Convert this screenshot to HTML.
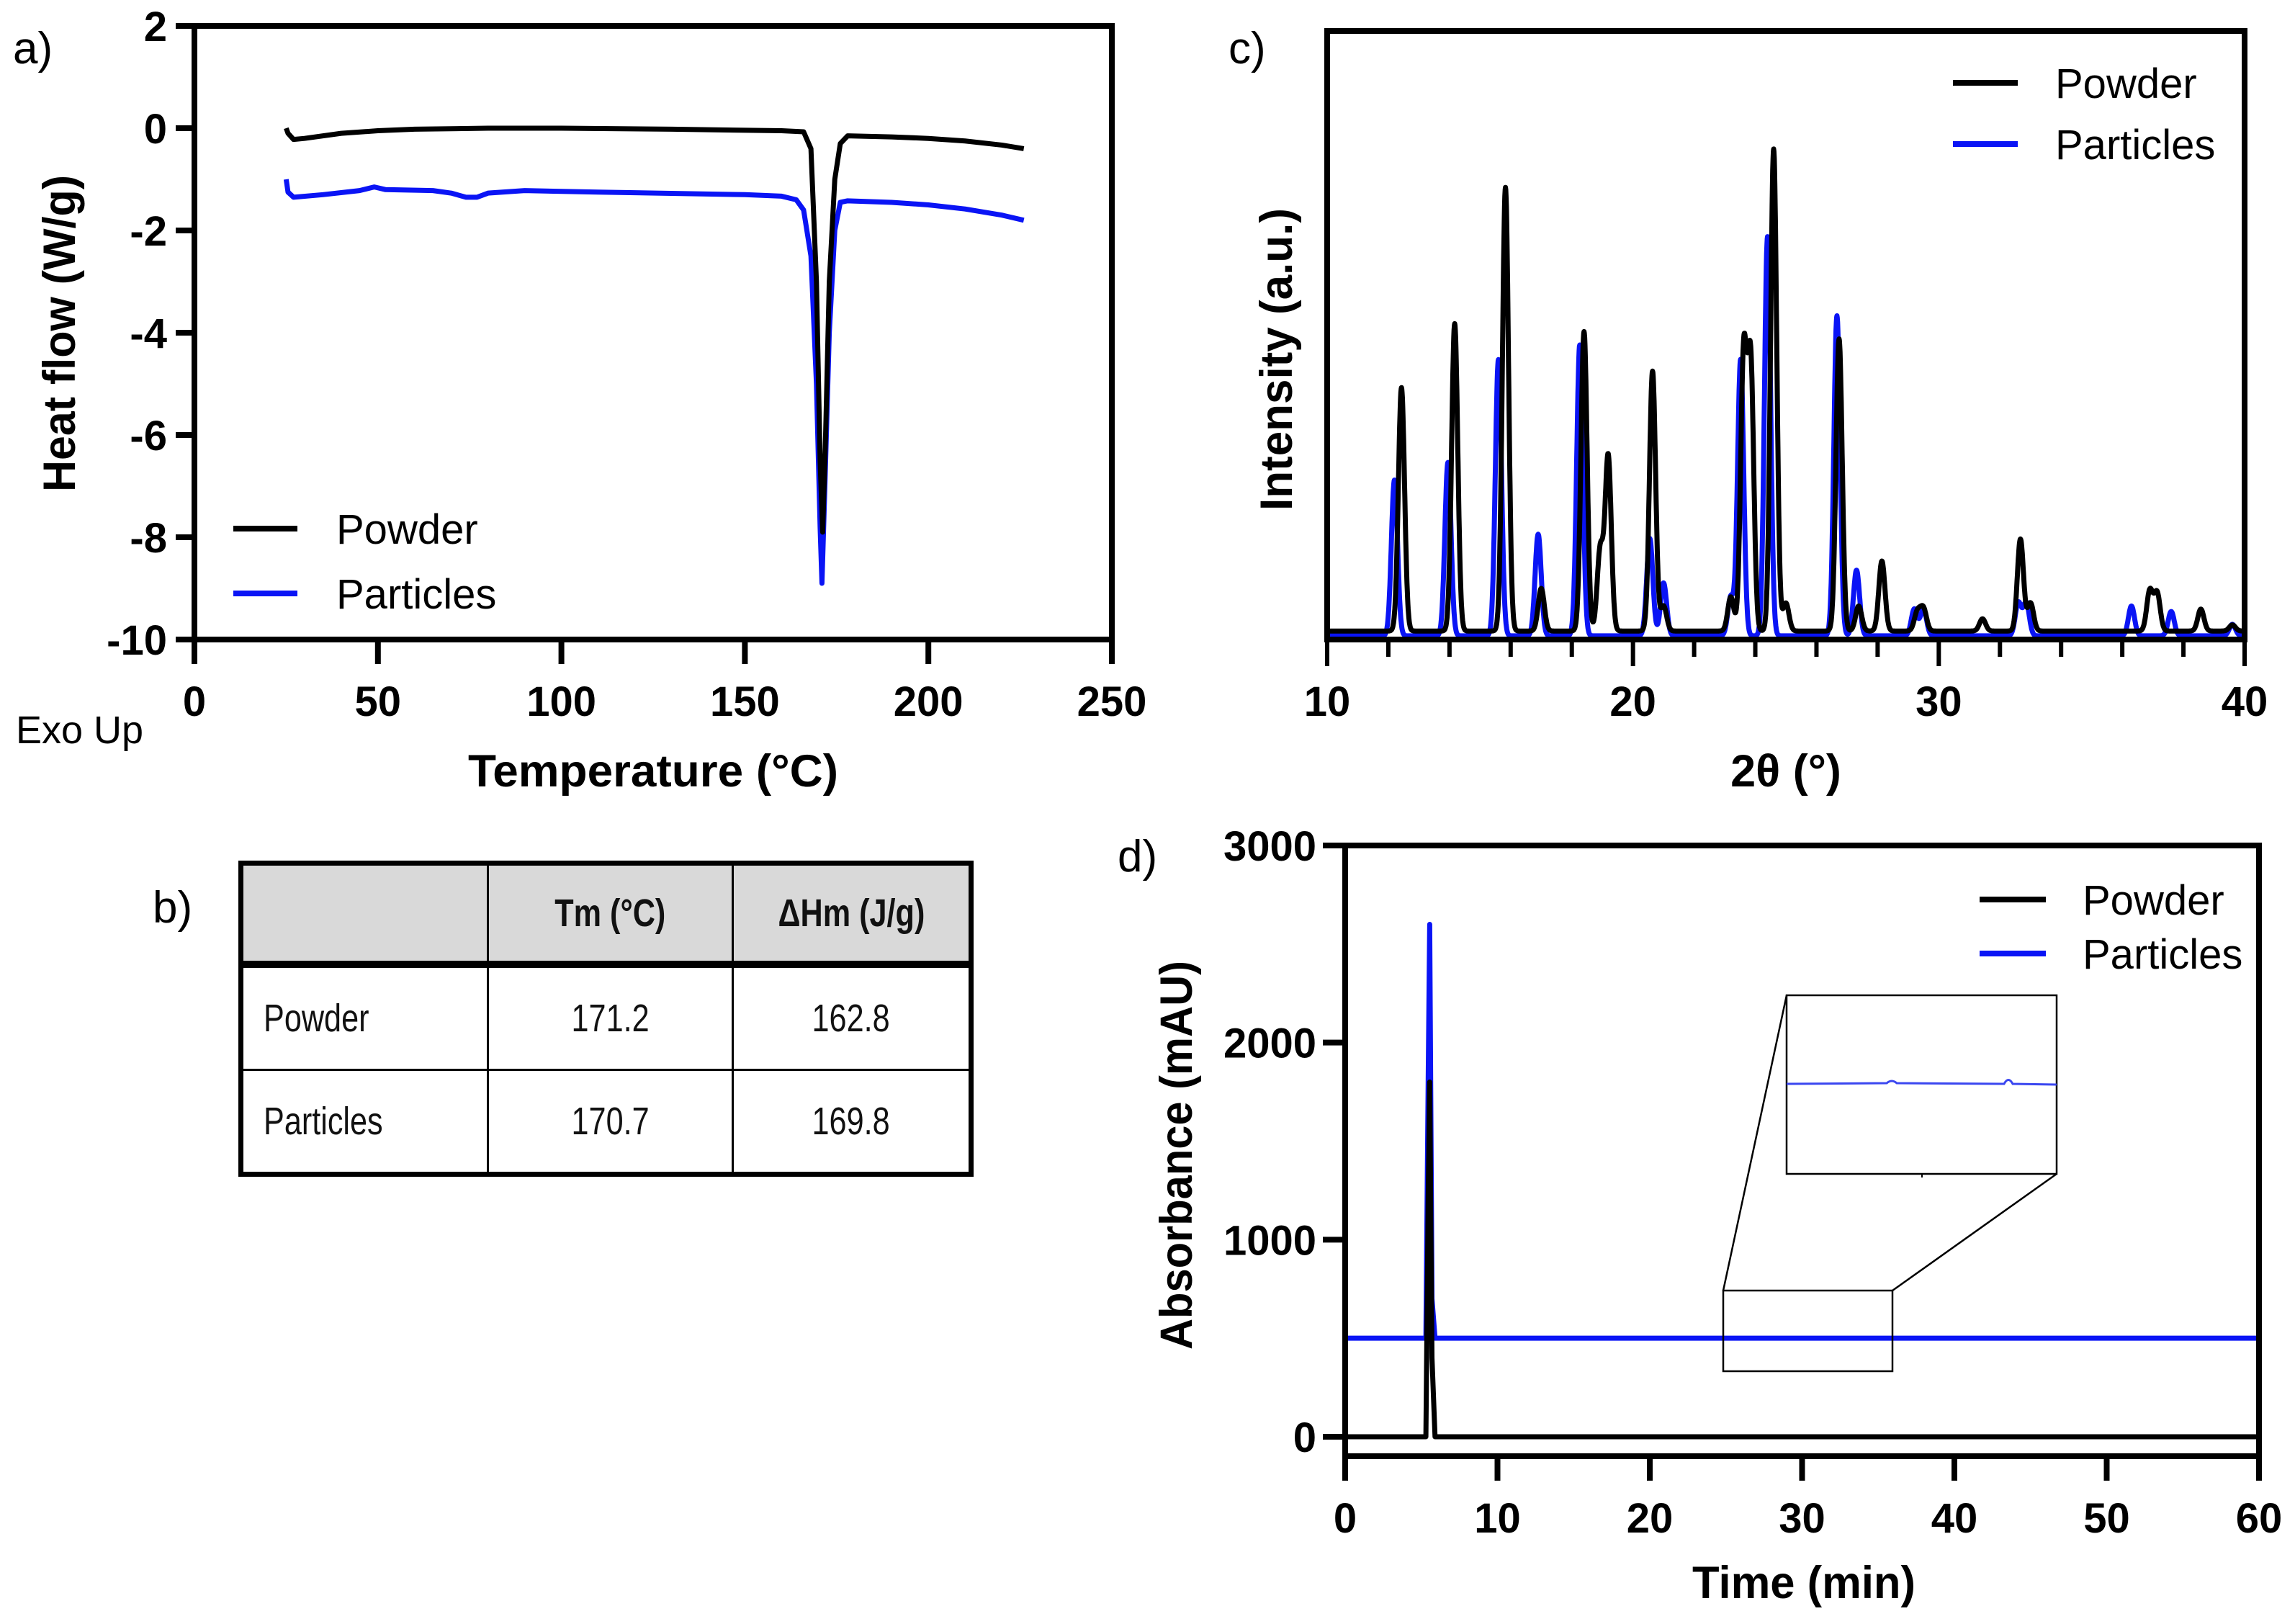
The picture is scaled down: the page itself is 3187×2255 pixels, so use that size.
<!DOCTYPE html>
<html><head><meta charset="utf-8">
<style>
html,body{margin:0;padding:0;background:#fff;}
#wrap{position:relative;width:3187px;height:2255px;overflow:hidden;background:#fff;font-family:"Liberation Sans",sans-serif;}
svg{position:absolute;left:0;top:0;}
#tbl{position:absolute;left:331px;top:1195px;width:1021px;height:433px;border-collapse:collapse;font-family:"Liberation Sans",sans-serif;font-size:54px;color:#111;border:7px solid #000;}
#tbl td{border:3px solid #000;padding:0;}
#tbl tr.h td{background:#d9d9d9;font-weight:bold;text-align:center;height:132px;border-bottom:10px solid #000;}
#tbl tr.r td{height:140px;text-align:center;}
#tbl tr.r td.n{text-align:left;padding-left:28px;}
#tbl tr:last-child td{border-bottom:7px solid #000;}
.sx{display:inline-block;transform:scaleX(0.8);transform-origin:center;}
.sl{display:inline-block;transform:scaleX(0.8);transform-origin:left;}
</style></head>
<body>
<div id="wrap">
<svg id="fig" width="3187" height="2255" viewBox="0 0 3187 2255"></svg>
<div style="position:absolute;left:212px;top:1225px;font-size:62px;">b)</div>
<table id="tbl">
<tr class="h"><td style="width:338px"></td><td style="width:337px"><span class="sx">Tm (°C)</span></td><td><span class="sx">ΔHm (J/g)</span></td></tr>
<tr class="r"><td class="n"><span class="sl">Powder</span></td><td><span class="sx">171.2</span></td><td><span class="sx">162.8</span></td></tr>
<tr class="r"><td class="n"><span class="sl">Particles</span></td><td><span class="sx">170.7</span></td><td><span class="sx">169.8</span></td></tr>
</table>
</div>
<script>
// ---- Panel a (DSC) data ----
const dscPowderT = [25,25.5,27,30,40,50,60,80,100,130,160,166,168,169.5,170.5,171.2,172,173,174.5,176,178,190,200,210,220,226];
const dscPowderH = [0,-0.1,-0.22,-0.2,-0.1,-0.05,-0.02,0,0,-0.02,-0.05,-0.07,-0.4,-3,-6.5,-7.9,-6,-3,-1,-0.3,-0.15,-0.17,-0.2,-0.25,-0.33,-0.4];
const dscPartT = [25,25.5,27,35,45,49,52,65,70,74,77,80,90,110,150,160,164,166,168,169.5,170.5,171,171.8,173,174.5,176,178,190,200,210,220,226];
const dscPartH = [-1.0,-1.25,-1.35,-1.3,-1.22,-1.15,-1.2,-1.22,-1.27,-1.35,-1.35,-1.27,-1.22,-1.25,-1.3,-1.33,-1.4,-1.6,-2.5,-5,-7.8,-8.9,-7,-4,-2,-1.45,-1.42,-1.45,-1.5,-1.58,-1.7,-1.8];
const dscXTicks = [0,50,100,150,200,250];
const dscYTicks = [2,0,-2,-4,-6,-8,-10];
// ---- Panel c (XRD) data: peak positions (2θ) and heights (% of axis) ----
const xrdPowderPos = [12.43,14.17,15.83,17.0,18.4,18.93,19.19,20.64,21.0,23.2,23.62,23.85,24.6,25.0,26.74,27.38,28.14,29.3,29.5,31.43,32.67,33.0,36.9,37.14,38.57,39.6];
const xrdPowderHt = [41.4,51.9,74.3,8.4,50.6,14.8,30.1,44.1,5.5,7,46.4,45,80.6,6,49.4,5.5,12.9,4.5,5,3.4,16.5,6,8,7.6,5,2.4];
const xrdPartPos = [12.2,13.95,15.6,16.9,18.26,20.55,21.0,23.2,23.52,24.4,26.67,27.31,29.2,29.5,32.6,32.86,36.3,37.6,39.6];
const xrdPartHt = [26.2,29.1,46,17.3,48.4,16.6,9.3,7,46,66.2,53.2,11.4,5,5,6,6,5.5,4.6,2.5];
const xrdPowderBase = [1.4];
const xrdPartBase = [0.6];
const xrdXTicks = [10,20,30,40];
// ---- Panel d (HPLC) data ----
const hplcT = [0,5.3,5.45,5.55,5.7,5.9,60];
const hplcPowder = [0,0,1200,1800,400,0,0];
const hplcPart = [500,500,1800,2600,700,500,500];
const hplcXTicks = [0,10,20,30,40,50,60];
const hplcYTicks = [0,1000,2000,3000];

const NS='http://www.w3.org/2000/svg';
const svg=document.getElementById('fig');
function mk(tag,attrs,parent){const e=document.createElementNS(NS,tag);for(const k in attrs)e.setAttribute(k,attrs[k]);(parent||svg).appendChild(e);return e;}
function txt(s,attrs,parent){const e=mk('text',attrs,parent);e.textContent=s;return e;}
function lin(d0,d1,r0,r1){return v=>r0+(v-d0)/(d1-d0)*(r1-r0);}
const LW=7, AW=8;

// ================= Panel a =================
(function(){
const g=mk('g',{});


const X=lin(0,250,270,1544), Y=lin(-10,2,888,36);
const pl=(ts,hs,col,name)=>{const p=mk('polyline',{points:ts.map((t,i)=>X(t)+','+Y(hs[i])).join(' '),fill:'none',stroke:col,'stroke-width':LW,'stroke-linejoin':'round'},g);

};
pl(dscPartT,dscPartH,'#0a14f5','dsc-particles-line');
pl(dscPowderT,dscPowderH,'#000','dsc-powder-line');
const ax=mk('rect',{x:270,y:36,width:1274,height:852,fill:'none',stroke:'#000','stroke-width':AW},g);


dscXTicks.forEach(v=>{mk('line',{x1:X(v),x2:X(v),y1:888,y2:922,stroke:'#000','stroke-width':AW},g);
const t=txt(v,{x:X(v),y:994,'text-anchor':'middle','font-size':58,'font-weight':'bold'},g);

});
dscYTicks.forEach(v=>{mk('line',{x1:244,x2:270,y1:Y(v),y2:Y(v),stroke:'#000','stroke-width':AW},g);
const t=txt(v,{x:232,y:Y(v)+21,'text-anchor':'end','font-size':58,'font-weight':'bold'},g);

});
const xt=txt('Temperature (°C)',{x:907,y:1092,'text-anchor':'middle','font-size':63,'font-weight':'bold',textLength:514,lengthAdjust:'spacingAndGlyphs'},g);


const yt=txt('Heat flow (W/g)',{x:0,y:0,'text-anchor':'middle','font-size':63,'font-weight':'bold',transform:'translate(104,463) rotate(-90)',textLength:440,lengthAdjust:'spacingAndGlyphs'},g);


const ex=txt('Exo Up',{x:22,y:1032,'font-size':54},g);


const la=txt('a)',{x:18,y:88,'font-size':62},g);


[['Powder','#000',734],['Particles','#0a14f5',824]].forEach(([n,c,y])=>{
const l=mk('line',{x1:324,x2:413,y1:y,y2:y,stroke:c,'stroke-width':8},g);


const t=txt(n,{x:467,y:y+21,'font-size':58},g);

});
})();

// ================= Panel c =================
(function(){
const g=mk('g',{});


const X=lin(10,40,1843,3117), Y=lin(0,100,888,43);
function curve(pos,ht,base){const pts=[];for(let i=0;i<=3000;i++){const x=10+i*0.01;let y=base;for(let k=0;k<pos.length;k++){const d=(x-pos[k])/0.1;y+=(ht[k]-base)*Math.exp(-0.5*d*d);}pts.push(X(x).toFixed(1)+','+Y(y).toFixed(1));}return pts.join(' ');}
const p1=mk('polyline',{points:curve(xrdPartPos,xrdPartHt,xrdPartBase[0]),fill:'none',stroke:'#0a14f5','stroke-width':LW,'stroke-linejoin':'round'},g);


const p2=mk('polyline',{points:curve(xrdPowderPos,xrdPowderHt,xrdPowderBase[0]),fill:'none',stroke:'#000','stroke-width':LW,'stroke-linejoin':'round'},g);


const ax=mk('rect',{x:1843,y:43,width:1274,height:845,fill:'none',stroke:'#000','stroke-width':AW},g);


for(let v=10;v<=40;v+=2){mk('line',{x1:X(v),x2:X(v),y1:888,y2:(v%10===0)?925:912,stroke:'#000','stroke-width':6},g);}
xrdXTicks.forEach(v=>{const t=txt(v,{x:X(v),y:994,'text-anchor':'middle','font-size':58,'font-weight':'bold'},g);

});
const xt=txt('2θ (°)',{x:2480,y:1092,'text-anchor':'middle','font-size':63,'font-weight':'bold'},g);


const yt=txt('Intensity (a.u.)',{x:0,y:0,'text-anchor':'middle','font-size':63,'font-weight':'bold',transform:'translate(1794,499) rotate(-90)',textLength:420,lengthAdjust:'spacingAndGlyphs'},g);


const lc=txt('c)',{x:1706,y:88,'font-size':62},g);


[['Powder','#000',115],['Particles','#0a14f5',200]].forEach(([n,c,y])=>{
const l=mk('line',{x1:2712,x2:2802,y1:y,y2:y,stroke:c,'stroke-width':8},g);


const t=txt(n,{x:2854,y:y+21,'font-size':58},g);

});
})();

// ================= Panel d =================
(function(){
const g=mk('g',{});


const X=lin(0,60,1868,3137), Y=lin(0,3000,1995,1174);
const pl=(vals,col,name)=>{const p=mk('polyline',{points:hplcT.map((t,i)=>X(t)+','+Y(vals[i])).join(' '),fill:'none',stroke:col,'stroke-width':LW,'stroke-linejoin':'round'},g);

};
pl(hplcPart,'#0a14f5','hplc-particles-line');
pl(hplcPowder,'#000','hplc-powder-line');
const ax=mk('path',{d:'M1868,1174 H3137 V2022 H1868 Z',fill:'none',stroke:'#000','stroke-width':AW},g);


hplcXTicks.forEach(v=>{mk('line',{x1:X(v),x2:X(v),y1:2022,y2:2056,stroke:'#000','stroke-width':AW},g);
const t=txt(v,{x:X(v),y:2128,'text-anchor':'middle','font-size':58,'font-weight':'bold'},g);

});
hplcYTicks.forEach(v=>{mk('line',{x1:1837,x2:1868,y1:Y(v),y2:Y(v),stroke:'#000','stroke-width':AW},g);
const t=txt(v,{x:1828,y:Y(v)+21,'text-anchor':'end','font-size':58,'font-weight':'bold'},g);

});
const xt=txt('Time (min)',{x:2505,y:2219,'text-anchor':'middle','font-size':63,'font-weight':'bold',textLength:310,lengthAdjust:'spacingAndGlyphs'},g);


const yt=txt('Absorbance (mAU)',{x:0,y:0,'text-anchor':'middle','font-size':63,'font-weight':'bold',transform:'translate(1655,1604) rotate(-90)',textLength:540,lengthAdjust:'spacingAndGlyphs'},g);


const ld=txt('d)',{x:1552,y:1210,'font-size':62},g);


[['Powder','#000',1249],['Particles','#0a14f5',1324]].forEach(([n,c,y])=>{
const l=mk('line',{x1:2749,x2:2841,y1:y,y2:y,stroke:c,'stroke-width':8},g);


const t=txt(n,{x:2892,y:y+21,'font-size':58},g);

});
const zb=mk('rect',{x:2393,y:1792,width:235,height:112,fill:'none',stroke:'#000','stroke-width':2.5},g);


const ib=mk('rect',{x:2481,y:1382,width:375,height:248,fill:'#fff',stroke:'#000','stroke-width':2.5},g);


mk('line',{x1:2393,y1:1792,x2:2481,y2:1382,stroke:'#000','stroke-width':2.5},g);
mk('line',{x1:2628,y1:1792,x2:2856,y2:1630,stroke:'#000','stroke-width':2.5},g);
const il=mk('path',{d:'M2481,1505 L2620,1504 Q2627,1498 2634,1504 L2783,1505 Q2789,1494 2795,1505 L2856,1506',fill:'none',stroke:'#3a46f0','stroke-width':3},g);


mk('line',{x1:2669,y1:1630,x2:2669,y2:1635,stroke:'#000','stroke-width':2},g);
})();
</script>
</body></html>
